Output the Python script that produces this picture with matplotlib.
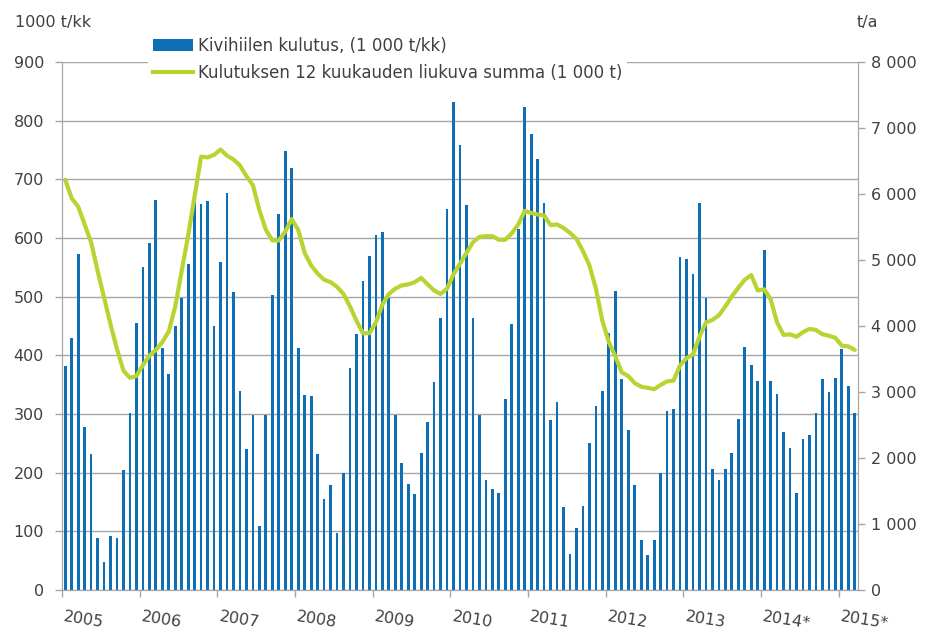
import matplotlib
matplotlib.use("Agg")
import matplotlib.pyplot as plt
from matplotlib.patches import Patch
from matplotlib.lines import Line2D
from matplotlib.ticker import FuncFormatter

# Monthly consumption (1000 t/kk), Jan 2005 - Mar 2015
consumption_2005 = [382, 430, 573, 278, 231, 89, 48, 92, 89, 204, 302, 455]
consumption_2006 = [551, 591, 664, 412, 368, 450, 498, 556, 679, 658, 663, 450]
consumption_2007 = [559, 676, 508, 340, 240, 298, 109, 299, 502, 641, 748, 720]
consumption_2008 = [412, 333, 330, 231, 155, 179, 97, 200, 379, 436, 526, 570]
consumption_2009 = [605, 611, 498, 298, 217, 181, 163, 234, 286, 354, 463, 650]
consumption_2010 = [832, 759, 657, 463, 298, 188, 173, 165, 326, 453, 616, 824]
consumption_2011 = [777, 734, 660, 289, 321, 141, 62, 105, 144, 250, 313, 340]
consumption_2012 = [438, 510, 360, 272, 179, 86, 59, 86, 200, 305, 308, 567]
consumption_2013 = [564, 539, 660, 497, 207, 187, 207, 234, 292, 415, 384, 357]
consumption_2014 = [579, 357, 334, 269, 242, 165, 258, 264, 302, 360, 337, 362]
consumption_2015 = [410, 348, 301]

# 12-month moving sum (1000 t)
moving_sum = [
    6215, 5934, 5809, 5539, 5269, 4837, 4431, 4026, 3648, 3323, 3215, 3242,
    3405, 3550, 3637, 3756, 3918, 4296, 4837, 5377, 5971, 6566, 6555, 6593,
    6674, 6580, 6523, 6431, 6269, 6134, 5755, 5458, 5296, 5296, 5431, 5620,
    5458, 5107, 4918, 4793, 4702, 4664, 4593, 4485, 4296, 4080, 3891, 3891,
    4053, 4323, 4485, 4566, 4615, 4631, 4664, 4728, 4631, 4539, 4485, 4566,
    4783, 4945, 5107, 5269, 5350, 5361, 5361, 5307, 5307, 5404, 5539, 5744,
    5712, 5690, 5674, 5528, 5539, 5485, 5410, 5320, 5134, 4918, 4566, 4080,
    3756, 3540, 3296, 3242, 3134, 3080, 3064, 3042, 3107, 3161, 3172, 3404,
    3513, 3567, 3837, 4053, 4091, 4161, 4296, 4448, 4580, 4700, 4772, 4539,
    4556, 4404, 4053, 3864, 3875, 3837, 3907, 3956, 3940, 3875, 3853, 3821,
    3702, 3691, 3637,
]

year_labels = ["2005", "2006", "2007", "2008", "2009", "2010", "2011",
               "2012", "2013", "2014*", "2015*"]

legend_bar = "Kivihiilen kulutus, (1 000 t/kk)"
legend_line = "Kulutuksen 12 kuukauden liukuva summa (1 000 t)"

consumption = (consumption_2005 + consumption_2006 + consumption_2007 +
               consumption_2008 + consumption_2009 + consumption_2010 +
               consumption_2011 + consumption_2012 + consumption_2013 +
               consumption_2014 + consumption_2015)
n = len(consumption)
xpos = [i + 0.5 for i in range(n)]

bar_color = "#0E6EB6"
line_color = "#B8D432"
grid_color = "#A6A6A6"
text_color = "#404040"
fs = 11.5

plt.rcParams['font.family'] = ['DejaVu Sans']

fig = plt.figure(figsize=(9.27, 6.35), dpi=100)
ax = fig.add_axes([62/927, 1 - 590/635, (858-62)/927, (590-62)/635])
ax2 = ax.twinx()

ax.bar(xpos, consumption, width=0.42, color=bar_color, zorder=2)
ax.set_xlim(0, n)
ax.set_ylim(0, 900)
ax.set_yticks(range(0, 901, 100))
ax.yaxis.grid(True, color=grid_color, linewidth=1.0)
ax.set_axisbelow(True)

ax2.plot(xpos, moving_sum, color=line_color, linewidth=3.0,
         solid_joinstyle='round', solid_capstyle='round', zorder=3)
ax2.set_ylim(0, 8000)
ax2.set_yticks(range(0, 8001, 1000))
ax2.yaxis.set_major_formatter(FuncFormatter(
    lambda v, p: f"{int(v):,}".replace(",", " ")))

for a in (ax, ax2):
    for s in a.spines.values():
        s.set_color(grid_color)
    a.spines['top'].set_visible(False)
    a.tick_params(colors=grid_color, labelcolor=text_color, labelsize=fs,
                  length=5, width=1)

ax.tick_params(axis='y', pad=8)
ax2.tick_params(axis='y', pad=4)

# x-axis: ticks every 12 months, slanted year labels
ax.set_xticks([12 * k for k in range(len(year_labels))])
ax.set_xticklabels([])
ax.tick_params(axis='x', length=5)
for k, lab in enumerate(year_labels):
    ax.text(12 * k + 0.5, -33, lab, rotation=-9, rotation_mode='anchor',
            ha='left', va='top', fontsize=fs, color=text_color,
            clip_on=False)

fig.text(15/927, 1 - 23/635, "1000 t/kk", fontsize=fs, color=text_color,
         ha='left', va='center')
fig.text(867/927, 1 - 22/635, "t/a", fontsize=fs, color=text_color,
         ha='center', va='center')

handles = [Patch(facecolor=bar_color, edgecolor='none'),
           Line2D([0], [0], color=line_color, linewidth=3.0)]
leg = ax2.legend(handles, [legend_bar, legend_line], loc='upper left',
                 bbox_to_anchor=(148/927, 1 - 32/635),
                 bbox_transform=fig.transFigure,
                 frameon=True, facecolor='white', edgecolor='none',
                 framealpha=1.0, fancybox=False, fontsize=12,
                 handlelength=2.4, handletextpad=0.3, labelspacing=0.55,
                 borderpad=0.3, borderaxespad=0)
for t in leg.get_texts():
    t.set_color(text_color)
leg.set_zorder(10)

fig.savefig("out.png", dpi=100)
